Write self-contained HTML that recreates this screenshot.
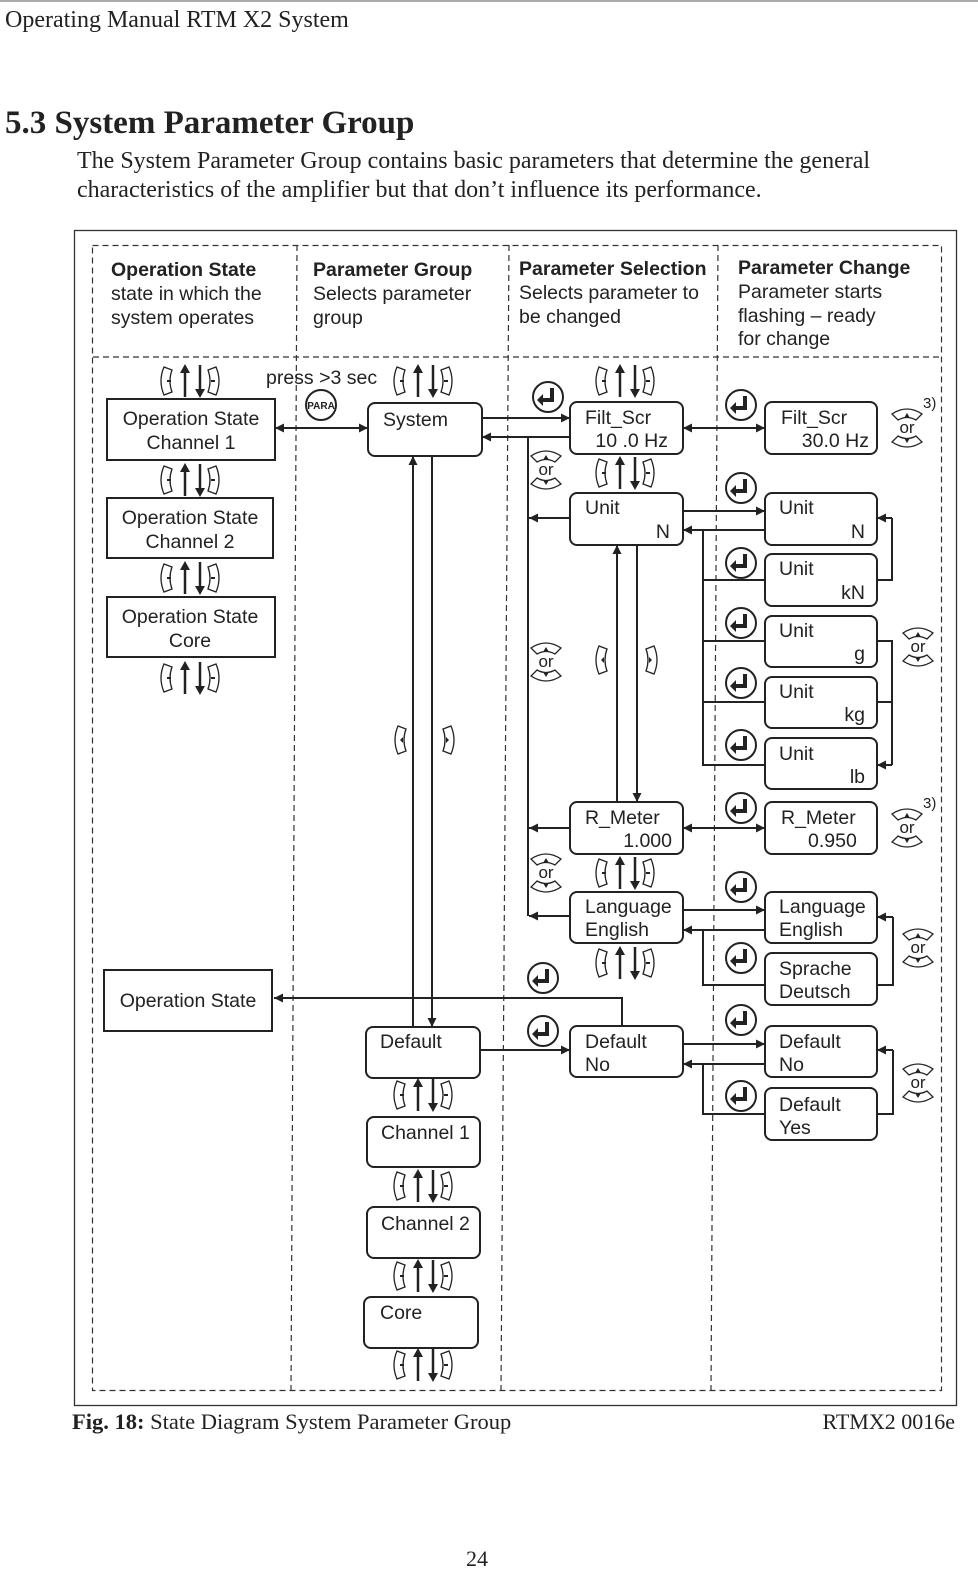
<!DOCTYPE html>
<html><head><meta charset="utf-8">
<style>
html,body{margin:0;padding:0;background:#fff;}
body{width:978px;height:1594px;position:relative;overflow:hidden;}
svg{position:absolute;left:0;top:0;}
</style></head><body>
<svg width="978" height="1594" viewBox="0 0 978 1594" xmlns="http://www.w3.org/2000/svg">
<defs>
<marker id="ah" viewBox="0 0 10 10" refX="10" refY="5" markerWidth="9" markerHeight="9" orient="auto-start-reverse" markerUnits="userSpaceOnUse"><path d="M0,0 L10,5 L0,10 z" fill="#222"/></marker>
<g id="nav">
  <path d="M-28,-14 q-6,14 0,28 l8,-3 q-4,-11 0,-22 z" fill="none" stroke="#222" stroke-width="1.3"/>
  <path d="M-21,0 l-4,0" stroke="#222" stroke-width="2"/>
  <line x1="-7" y1="16" x2="-7" y2="-10" stroke="#222" stroke-width="2.5"/>
  <path d="M-12,-8 L-7,-17 L-2,-8 z" fill="#222"/>
  <line x1="8" y1="-16" x2="8" y2="10" stroke="#222" stroke-width="2.5"/>
  <path d="M3,8 L8,17 L13,8 z" fill="#222"/>
  <path d="M24,-14 q6,14 0,28 l-8,-3 q4,-11 0,-22 z" fill="none" stroke="#222" stroke-width="1.3"/>
  <path d="M19,0 l4,0" stroke="#222" stroke-width="2"/>
</g>
<g id="ent">
  <circle r="15" fill="#fff" stroke="#222" stroke-width="2"/>
  <path d="M2,-9 v10 h-7 v-4 l-6,6 l6,6 v-4 h11 v-14 z" fill="#222"/>
</g>
<g id="orb">
  <path d="M-15,-14 q15,-10 30,0 l-6,6 q-9,-5 -18,0 z" fill="none" stroke="#222" stroke-width="1.3"/>
  <path d="M-3,-10 l3,-5 l3,5z" fill="#222"/>
  <path d="M-15,14 q15,10 30,0 l-6,-6 q-9,5 -18,0 z" fill="none" stroke="#222" stroke-width="1.3"/>
  <path d="M-3,10 l3,5 l3,-5z" fill="#222"/>
  <text x="0" y="5" font-family="Liberation Sans" font-size="17" text-anchor="middle" fill="#222">or</text>
</g>
<g id="lk"><path d="M0,-14 q-6,14 0,28 l8,-3 q-4,-11 0,-22 z" fill="none" stroke="#222" stroke-width="1.3"/><path d="M2,0 l3,-3 v6z" fill="#222"/></g>
<g id="rk"><path d="M0,-14 q6,14 0,28 l-8,-3 q4,-11 0,-22 z" fill="none" stroke="#222" stroke-width="1.3"/><path d="M-2,0 l-3,-3 v6z" fill="#222"/></g>
</defs>

<!-- page header -->
<line x1="0" y1="1" x2="978" y2="1" stroke="#555" stroke-width="1"/>
<text x="5" y="27" font-family="Liberation Serif" font-size="24" fill="#222">Operating Manual RTM X2 System</text>
<text x="5" y="133" font-family="Liberation Serif" font-size="33" font-weight="bold" fill="#222">5.3  System Parameter Group</text>
<text x="77" y="168" font-family="Liberation Serif" font-size="24" fill="#222">The System Parameter Group contains basic parameters that determine the general</text>
<text x="77" y="197" font-family="Liberation Serif" font-size="24" fill="#222">characteristics of the amplifier but that don’t influence its performance.</text>

<!-- frames -->
<rect x="74.5" y="230.5" width="882" height="1175" fill="none" stroke="#333" stroke-width="1.3"/>
<g stroke="#333" stroke-width="1.2" stroke-dasharray="6,4" fill="none">
<rect x="92.5" y="245.5" width="849" height="1145"/>
<line x1="93" y1="357" x2="941" y2="357"/>
<line x1="297" y1="245" x2="291" y2="1390"/>
<line x1="509" y1="245" x2="501" y2="1390"/>
<line x1="718" y1="245" x2="711" y2="1390"/>
</g>

<g font-family="Liberation Sans" font-size="19.5" fill="#222">
<text x="111" y="276" font-weight="bold">Operation State</text>
<text x="111" y="300">state in which the</text>
<text x="111" y="324">system operates</text>
<text x="313" y="276" font-weight="bold">Parameter Group</text>
<text x="313" y="300">Selects parameter</text>
<text x="313" y="324">group</text>
<text x="519" y="275" font-weight="bold">Parameter Selection</text>
<text x="519" y="299">Selects parameter to</text>
<text x="519" y="323">be changed</text>
<text x="738" y="274" font-weight="bold">Parameter Change</text>
<text x="738" y="298">Parameter starts</text>
<text x="738" y="322">flashing – ready</text>
<text x="738" y="345">for change</text>
<text x="266" y="384">press &gt;3 sec</text>
</g>

<!-- boxes -->
<g fill="#fff" stroke="#222" stroke-width="2">
<rect x="107" y="399" width="168" height="61"/>
<rect x="107" y="498" width="166" height="60"/>
<rect x="107" y="597" width="168" height="60"/>
<rect x="104" y="970" width="168" height="61"/>
<rect x="368" y="403" width="114" height="53" rx="7"/>
<rect x="366" y="1027" width="114" height="51" rx="7"/>
<rect x="367" y="1117" width="113" height="50" rx="7"/>
<rect x="367" y="1207" width="113" height="51" rx="7"/>
<rect x="364" y="1297" width="114" height="51" rx="7"/>
<rect x="570" y="402" width="113" height="52" rx="7"/>
<rect x="570" y="493" width="113" height="52" rx="7"/>
<rect x="570" y="802" width="113" height="52" rx="7"/>
<rect x="570" y="892" width="113" height="51" rx="7"/>
<rect x="570" y="1026" width="113" height="51" rx="7"/>
<rect x="765" y="402" width="112" height="52" rx="7"/>
<rect x="765" y="493" width="112" height="52" rx="7"/>
<rect x="765" y="554" width="112" height="52" rx="7"/>
<rect x="765" y="616" width="112" height="51" rx="7"/>
<rect x="765" y="677" width="112" height="51" rx="7"/>
<rect x="765" y="738" width="112" height="51" rx="7"/>
<rect x="765" y="802" width="112" height="52" rx="7"/>
<rect x="765" y="892" width="112" height="51" rx="7"/>
<rect x="765" y="953" width="112" height="52" rx="7"/>
<rect x="765" y="1026" width="112" height="51" rx="7"/>
<rect x="765" y="1088" width="112" height="52" rx="7"/>
</g>

<g font-family="Liberation Sans" font-size="19.5" fill="#222">
<text x="191" y="425" text-anchor="middle">Operation State</text>
<text x="191" y="449" text-anchor="middle">Channel 1</text>
<text x="190" y="524" text-anchor="middle">Operation State</text>
<text x="190" y="548" text-anchor="middle">Channel 2</text>
<text x="190" y="623" text-anchor="middle">Operation State</text>
<text x="190" y="647" text-anchor="middle">Core</text>
<text x="188" y="1007" text-anchor="middle">Operation State</text>
<text x="383" y="426">System</text>
<text x="380" y="1048">Default</text>
<text x="381" y="1139">Channel 1</text>
<text x="381" y="1230">Channel 2</text>
<text x="380" y="1319">Core</text>
<text x="585" y="424">Filt_Scr</text>
<text x="668" y="447" text-anchor="end">10 .0 Hz</text>
<text x="585" y="514">Unit</text>
<text x="670" y="538" text-anchor="end">N</text>
<text x="585" y="824">R_Meter</text>
<text x="672" y="847" text-anchor="end">1.000</text>
<text x="585" y="913">Language</text>
<text x="585" y="936">English</text>
<text x="585" y="1048">Default</text>
<text x="585" y="1071">No</text>
<text x="781" y="424">Filt_Scr</text>
<text x="869" y="447" text-anchor="end">30.0 Hz</text>
<text x="779" y="514">Unit</text>
<text x="865" y="538" text-anchor="end">N</text>
<text x="779" y="575">Unit</text>
<text x="865" y="599" text-anchor="end">kN</text>
<text x="779" y="637">Unit</text>
<text x="865" y="660" text-anchor="end">g</text>
<text x="779" y="698">Unit</text>
<text x="865" y="721" text-anchor="end">kg</text>
<text x="779" y="760">Unit</text>
<text x="865" y="783" text-anchor="end">lb</text>
<text x="781" y="824">R_Meter</text>
<text x="808" y="847">0.950</text>
<text x="779" y="913">Language</text>
<text x="779" y="936">English</text>
<text x="779" y="975">Sprache</text>
<text x="779" y="998">Deutsch</text>
<text x="779" y="1048">Default</text>
<text x="779" y="1071">No</text>
<text x="779" y="1111">Default</text>
<text x="779" y="1134">Yes</text>
<text x="923" y="408" font-size="15">3)</text>
<text x="923" y="808" font-size="15">3)</text>
</g>

<!-- connectors -->
<g stroke="#222" stroke-width="2" fill="none">
<line x1="275" y1="428" x2="368" y2="428" marker-start="url(#ah)" marker-end="url(#ah)"/>
<line x1="413" y1="1027" x2="413" y2="456" marker-end="url(#ah)"/>
<line x1="432" y1="456" x2="432" y2="1027" marker-end="url(#ah)"/>
<line x1="482" y1="418" x2="570" y2="418" marker-end="url(#ah)"/>
<polyline points="570,437 528,437 528,916"/>
<line x1="528" y1="437" x2="482" y2="437" marker-end="url(#ah)"/>
<line x1="570" y1="518" x2="529" y2="518" marker-end="url(#ah)"/>
<line x1="570" y1="828" x2="529" y2="828" marker-end="url(#ah)"/>
<line x1="570" y1="916" x2="529" y2="916" marker-end="url(#ah)"/>
<line x1="617" y1="802" x2="617" y2="545" marker-end="url(#ah)"/>
<line x1="637" y1="545" x2="637" y2="802" marker-end="url(#ah)"/>
<line x1="683" y1="428" x2="765" y2="428" marker-start="url(#ah)" marker-end="url(#ah)"/>
<line x1="683" y1="511" x2="765" y2="511" marker-end="url(#ah)"/>
<line x1="765" y1="530" x2="683" y2="530" marker-end="url(#ah)"/>
<polyline points="703,530 703,765 765,765"/>
<line x1="703" y1="580" x2="765" y2="580"/>
<line x1="703" y1="641" x2="765" y2="641"/>
<line x1="703" y1="702" x2="765" y2="702"/>
<polyline points="877,580 892,580 892,518"/>
<line x1="892" y1="518" x2="877" y2="518" marker-end="url(#ah)"/>
<polyline points="877,641 892,641 892,765"/>
<line x1="877" y1="702" x2="892" y2="702"/>
<line x1="892" y1="765" x2="877" y2="765" marker-end="url(#ah)"/>
<line x1="683" y1="828" x2="765" y2="828" marker-start="url(#ah)" marker-end="url(#ah)"/>
<line x1="683" y1="910" x2="765" y2="910" marker-end="url(#ah)"/>
<line x1="765" y1="930" x2="683" y2="930" marker-end="url(#ah)"/>
<polyline points="703,930 703,985 765,985"/>
<polyline points="877,985 893,985 893,917"/>
<line x1="893" y1="917" x2="877" y2="917" marker-end="url(#ah)"/>
<line x1="480" y1="1050" x2="570" y2="1050" marker-end="url(#ah)"/>
<polyline points="622,1026 622,998 274,998" marker-end="url(#ah)"/>
<line x1="683" y1="1044" x2="765" y2="1044" marker-end="url(#ah)"/>
<line x1="765" y1="1064" x2="683" y2="1064" marker-end="url(#ah)"/>
<polyline points="703,1064 703,1114 765,1114"/>
<polyline points="877,1114 893,1114 893,1050"/>
<line x1="893" y1="1050" x2="877" y2="1050" marker-end="url(#ah)"/>
</g>

<!-- nav icons -->
<use href="#nav" x="192" y="381"/>
<use href="#nav" x="192" y="480"/>
<use href="#nav" x="192" y="578"/>
<use href="#nav" x="192" y="678"/>
<use href="#nav" x="425" y="381"/>
<use href="#nav" x="425" y="1095"/>
<use href="#nav" x="425" y="1186"/>
<use href="#nav" x="425" y="1276"/>
<use href="#nav" x="425" y="1365"/>
<use href="#nav" x="627" y="381"/>
<use href="#nav" x="627" y="473"/>
<use href="#nav" x="627" y="873"/>
<use href="#nav" x="627" y="963"/>
<use href="#lk" x="398" y="740"/>
<use href="#rk" x="451" y="740"/>
<use href="#lk" x="599" y="660"/>
<use href="#rk" x="654" y="660"/>

<!-- enter icons -->
<use href="#ent" x="548" y="397"/>
<use href="#ent" x="543" y="978"/>
<use href="#ent" x="543" y="1031"/>
<use href="#ent" x="741" y="405"/>
<use href="#ent" x="741" y="488"/>
<use href="#ent" x="741" y="563"/>
<use href="#ent" x="741" y="623"/>
<use href="#ent" x="741" y="683"/>
<use href="#ent" x="741" y="745"/>
<use href="#ent" x="741" y="808"/>
<use href="#ent" x="741" y="887"/>
<use href="#ent" x="741" y="958"/>
<use href="#ent" x="741" y="1020"/>
<use href="#ent" x="741" y="1096"/>
<circle cx="321" cy="405" r="15" fill="#fff" stroke="#222" stroke-width="2"/>
<text x="321" y="409" font-family="Liberation Sans" font-size="10" font-weight="bold" text-anchor="middle" fill="#222">PARA</text>

<!-- or icons -->
<use href="#orb" x="907" y="428"/>
<use href="#orb" x="918" y="647"/>
<use href="#orb" x="907" y="828"/>
<use href="#orb" x="918" y="948"/>
<use href="#orb" x="918" y="1083"/>
<use href="#orb" x="546" y="470"/>
<use href="#orb" x="546" y="662"/>
<use href="#orb" x="546" y="873"/>

<!-- footer -->
<text x="72" y="1429" font-family="Liberation Serif" font-size="22.5" fill="#222"><tspan font-weight="bold">Fig. 18:</tspan> State Diagram System Parameter Group</text>
<text x="955" y="1429" font-family="Liberation Serif" font-size="22" text-anchor="end" fill="#222">RTMX2 0016e</text>
<text x="477" y="1566" font-family="Liberation Serif" font-size="22" text-anchor="middle" fill="#222">24</text>
</svg>
</body></html>
